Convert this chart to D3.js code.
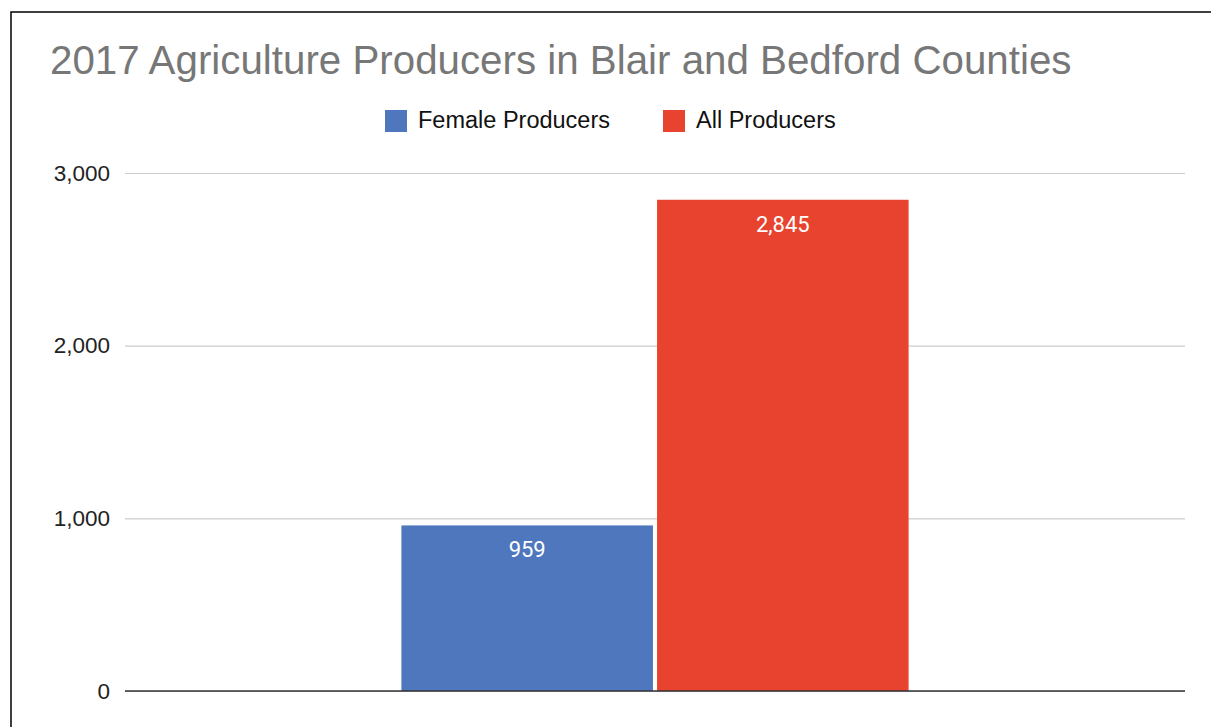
<!DOCTYPE html>
<html>
<head>
<meta charset="utf-8">
<script src="https://cdn.jsdelivr.net/npm/d3@7"></script>
<style>
  html, body { margin: 0; padding: 0; background: #fff; }
  svg { display: block; font-family: "Liberation Sans", Arial, sans-serif; }
</style>
</head>
<body>
<svg id="chart" width="1211" height="727"></svg>
<script>
// Chart data
const title = "2017 Agriculture Producers in Blair and Bedford Counties";
const categories = [""];
const seriesNames = ["Female Producers", "All Producers"];
const seriesColors = ["#4f77be", "#e8432f"];
const femaleProducers = [959];
const allProducers = [2845];
const yTicks = [0, 1000, 2000, 3000];

const svg = d3.select("#chart");
const W = 1211, H = 727;

// Frame around the chart
svg.append("rect").attr("x", 11).attr("y", 12).attr("width", W).attr("height", H)
  .attr("fill", "#fff").attr("stroke", "#000").attr("stroke-width", 1.5);

const margin = { left: 125, right: 26, top: 173, bottom: 36 };
const plotW = W - margin.left - margin.right;
const plotH = H - margin.top - margin.bottom;
const g = svg.append("g").attr("transform", `translate(${margin.left},${margin.top})`);

const y = d3.scaleLinear().domain([0, 3000]).range([plotH, 0]);
const x0 = d3.scaleBand().domain(categories).range([0, plotW]).paddingInner(0).paddingOuter(0.545);
const x1 = d3.scaleBand().domain(seriesNames).range([0, x0.bandwidth()]).paddingInner(0.016);

// Gridlines and tick labels
const yAxis = d3.axisLeft(y).tickValues(yTicks).tickSize(-plotW).tickPadding(15)
  .tickFormat(d3.format(","));
const ax = g.append("g").call(yAxis);
ax.select(".domain").remove();
ax.selectAll(".tick line").attr("stroke", "#cccccc").attr("stroke-width", 1.2);
ax.selectAll(".tick text").attr("fill", "#222").style("font-size", "22.5px")
  .style("font-family", "Liberation Sans, Arial, sans-serif");

// Bars
const rows = categories.map((c, i) => ({
  category: c,
  values: [
    { series: seriesNames[0], value: femaleProducers[i], color: seriesColors[0] },
    { series: seriesNames[1], value: allProducers[i], color: seriesColors[1] }
  ]
}));

const groups = g.selectAll(".cat").data(rows).join("g")
  .attr("transform", d => `translate(${x0(d.category)},0)`);

groups.selectAll("rect").data(d => d.values).join("rect")
  .attr("x", d => x1(d.series))
  .attr("y", d => y(d.value))
  .attr("width", x1.bandwidth())
  .attr("height", d => plotH - y(d.value))
  .attr("fill", d => d.color);

groups.selectAll("text.val").data(d => d.values).join("text")
  .attr("class", "val")
  .attr("x", d => x1(d.series) + x1.bandwidth() / 2)
  .attr("y", d => y(d.value) + 32)
  .attr("text-anchor", "middle")
  .attr("fill", "#fff")
  .style("font-family", "Roboto, sans-serif")
  .style("font-size", "22px")
  .text(d => d3.format(",")(d.value));

// Baseline
g.append("line").attr("x1", 0).attr("x2", plotW).attr("y1", y(0)).attr("y2", y(0))
  .attr("stroke", "#333").attr("stroke-width", 1.5);

// Title
svg.append("text").attr("x", 50).attr("y", 74)
  .attr("fill", "#777").style("font-size", "40.3px").text(title);

// Legend
const legendItems = [
  { name: seriesNames[0], color: seriesColors[0], x: 385 },
  { name: seriesNames[1], color: seriesColors[1], x: 663 }
];
const lg = svg.selectAll(".legend").data(legendItems).join("g")
  .attr("transform", d => `translate(${d.x},110)`);
lg.append("rect").attr("width", 22).attr("height", 22).attr("fill", d => d.color);
lg.append("text").attr("x", 33).attr("y", 18).attr("fill", "#111")
  .style("font-size", "23.5px").text(d => d.name);
</script>
</body>
</html>
